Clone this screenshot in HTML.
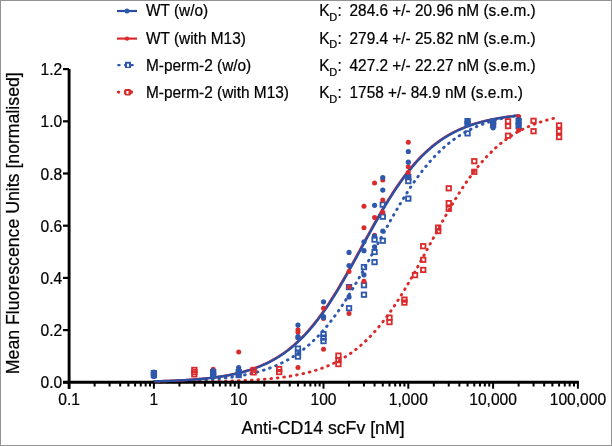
<!DOCTYPE html>
<html><head><meta charset="utf-8"><style>
html,body{margin:0;padding:0;background:#fff;}
body{width:612px;height:446px;overflow:hidden;}
svg{display:block;will-change:transform;}
text{font-family:"Liberation Sans",sans-serif;fill:#000;stroke:#000;stroke-width:0.22px;}
.tk{font-size:15.6px;}
.al{font-size:17.7px;}
.lg{font-size:15.4px;}
.sub{font-size:11px;}
</style></head><body>
<svg width="612" height="446" viewBox="0 0 612 446">
<rect x="0.5" y="0.5" width="611" height="445" fill="#fff" stroke="#939393" stroke-width="1"/>
<path d="M153.90 382.14 L155.93 382.14 L157.95 382.13 L159.98 382.12 L162.00 382.11 L164.03 382.10 L166.06 382.08 L168.08 382.07 L170.11 382.06 L172.13 382.05 L174.16 382.03 L176.19 382.02 L178.21 382.00 L180.24 381.98 L182.26 381.97 L184.29 381.95 L186.31 381.93 L188.34 381.91 L190.37 381.88 L192.39 381.86 L194.42 381.83 L196.44 381.81 L198.47 381.78 L200.50 381.75 L202.52 381.72 L204.55 381.69 L206.57 381.65 L208.60 381.62 L210.63 381.58 L212.65 381.54 L214.68 381.49 L216.70 381.45 L218.73 381.40 L220.76 381.35 L222.78 381.30 L224.81 381.24 L226.83 381.18 L228.86 381.12 L230.89 381.05 L232.91 380.98 L234.94 380.91 L236.96 380.83 L238.99 380.75 L241.02 380.66 L243.04 380.57 L245.07 380.47 L247.09 380.37 L249.12 380.26 L251.14 380.14 L253.17 380.02 L255.20 379.89 L257.22 379.76 L259.25 379.62 L261.27 379.47 L263.30 379.31 L265.33 379.14 L267.35 378.96 L269.38 378.78 L271.40 378.58 L273.43 378.37 L275.46 378.16 L277.48 377.93 L279.51 377.68 L281.53 377.43 L283.56 377.16 L285.59 376.87 L287.61 376.57 L289.64 376.25 L291.66 375.92 L293.69 375.57 L295.72 375.20 L297.74 374.81 L299.77 374.39 L301.79 373.96 L303.82 373.50 L305.85 373.02 L307.87 372.52 L309.90 371.98 L311.92 371.42 L313.95 370.84 L315.97 370.22 L318.00 369.56 L320.03 368.88 L322.05 368.16 L324.08 367.40 L326.10 366.61 L328.13 365.78 L330.16 364.90 L332.18 363.98 L334.21 363.02 L336.23 362.01 L338.26 360.95 L340.29 359.85 L342.31 358.69 L344.34 357.47 L346.36 356.20 L348.39 354.88 L350.42 353.49 L352.44 352.04 L354.47 350.53 L356.49 348.95 L358.52 347.31 L360.55 345.59 L362.57 343.81 L364.60 341.96 L366.62 340.03 L368.65 338.03 L370.68 335.95 L372.70 333.79 L374.73 331.56 L376.75 329.25 L378.78 326.86 L380.80 324.39 L382.83 321.84 L384.86 319.21 L386.88 316.50 L388.91 313.71 L390.93 310.85 L392.96 307.91 L394.99 304.90 L397.01 301.81 L399.04 298.65 L401.06 295.43 L403.09 292.14 L405.12 288.79 L407.14 285.38 L409.17 281.91 L411.19 278.40 L413.22 274.84 L415.25 271.23 L417.27 267.59 L419.30 263.92 L421.32 260.22 L423.35 256.50 L425.38 252.76 L427.40 249.01 L429.43 245.26 L431.45 241.51 L433.48 237.76 L435.51 234.03 L437.53 230.31 L439.56 226.62 L441.58 222.96 L443.61 219.33 L445.63 215.74 L447.66 212.19 L449.69 208.69 L451.71 205.24 L453.74 201.85 L455.76 198.52 L457.79 195.25 L459.82 192.04 L461.84 188.91 L463.87 185.85 L465.89 182.86 L467.92 179.94 L469.95 177.10 L471.97 174.34 L474.00 171.66 L476.02 169.05 L478.05 166.53 L480.08 164.08 L482.10 161.72 L484.13 159.43 L486.15 157.22 L488.18 155.09 L490.21 153.04 L492.23 151.06 L494.26 149.15 L496.28 147.32 L498.31 145.56 L500.34 143.87 L502.36 142.24 L504.39 140.69 L506.41 139.20 L508.44 137.77 L510.46 136.40 L512.49 135.09 L514.52 133.84 L516.54 132.64 L518.57 131.50 L520.59 130.41 L522.62 129.36 L524.65 128.37 L526.67 127.42 L528.70 126.52 L530.72 125.66 L532.75 124.83 L534.78 124.05 L536.80 123.31 L538.83 122.60 L540.85 121.93 L542.88 121.28 L544.91 120.67 L546.93 120.09 L548.96 119.54 L550.98 119.02 L553.01 118.52 L555.04 118.05 L557.06 117.60 L559.09 117.17" stroke="#da2a2b" stroke-width="2.9" fill="none" stroke-linecap="round" stroke-dasharray="0.7 5.8"/>
<path d="M153.90 381.66 L155.72 381.62 L157.55 381.59 L159.37 381.55 L161.19 381.52 L163.02 381.48 L164.84 381.44 L166.67 381.39 L168.49 381.35 L170.31 381.30 L172.14 381.25 L173.96 381.19 L175.78 381.14 L177.61 381.08 L179.43 381.02 L181.25 380.95 L183.08 380.88 L184.90 380.81 L186.73 380.74 L188.55 380.66 L190.37 380.58 L192.20 380.49 L194.02 380.40 L195.84 380.30 L197.67 380.20 L199.49 380.10 L201.31 379.98 L203.14 379.87 L204.96 379.75 L206.79 379.62 L208.61 379.48 L210.43 379.34 L212.26 379.19 L214.08 379.04 L215.90 378.87 L217.73 378.70 L219.55 378.52 L221.37 378.33 L223.20 378.13 L225.02 377.93 L226.85 377.71 L228.67 377.48 L230.49 377.24 L232.32 376.99 L234.14 376.72 L235.96 376.44 L237.79 376.15 L239.61 375.85 L241.43 375.53 L243.26 375.20 L245.08 374.84 L246.91 374.48 L248.73 374.09 L250.55 373.69 L252.38 373.27 L254.20 372.82 L256.02 372.36 L257.85 371.87 L259.67 371.37 L261.49 370.83 L263.32 370.28 L265.14 369.70 L266.97 369.09 L268.79 368.45 L270.61 367.78 L272.44 367.09 L274.26 366.36 L276.08 365.60 L277.91 364.81 L279.73 363.98 L281.55 363.12 L283.38 362.21 L285.20 361.27 L287.03 360.29 L288.85 359.27 L290.67 358.20 L292.50 357.09 L294.32 355.94 L296.14 354.73 L297.97 353.48 L299.79 352.18 L301.61 350.83 L303.44 349.42 L305.26 347.97 L307.09 346.45 L308.91 344.88 L310.73 343.25 L312.56 341.57 L314.38 339.82 L316.20 338.02 L318.03 336.15 L319.85 334.22 L321.67 332.23 L323.50 330.17 L325.32 328.05 L327.15 325.87 L328.97 323.62 L330.79 321.31 L332.62 318.93 L334.44 316.49 L336.26 313.99 L338.09 311.42 L339.91 308.79 L341.73 306.10 L343.56 303.36 L345.38 300.55 L347.21 297.69 L349.03 294.77 L350.85 291.80 L352.68 288.79 L354.50 285.72 L356.32 282.61 L358.15 279.46 L359.97 276.27 L361.79 273.04 L363.62 269.78 L365.44 266.50 L367.27 263.19 L369.09 259.86 L370.91 256.51 L372.74 253.15 L374.56 249.78 L376.38 246.41 L378.21 243.03 L380.03 239.66 L381.85 236.30 L383.68 232.94 L385.50 229.61 L387.33 226.29 L389.15 223.00 L390.97 219.74 L392.80 216.50 L394.62 213.30 L396.44 210.14 L398.27 207.02 L400.09 203.94 L401.91 200.91 L403.74 197.93 L405.56 195.00 L407.39 192.13 L409.21 189.31 L411.03 186.54 L412.86 183.84 L414.68 181.20 L416.50 178.61 L418.33 176.09 L420.15 173.64 L421.97 171.24 L423.80 168.92 L425.62 166.65 L427.45 164.45 L429.27 162.32 L431.09 160.24 L432.92 158.24 L434.74 156.29 L436.56 154.41 L438.39 152.59 L440.21 150.83 L442.03 149.12 L443.86 147.48 L445.68 145.90 L447.51 144.37 L449.33 142.90 L451.15 141.48 L452.98 140.11 L454.80 138.80 L456.62 137.54 L458.45 136.32 L460.27 135.15 L462.09 134.03 L463.92 132.95 L465.74 131.92 L467.57 130.93 L469.39 129.98 L471.21 129.07 L473.04 128.19 L474.86 127.36 L476.68 126.55 L478.51 125.79 L480.33 125.05 L482.15 124.35 L483.98 123.67 L485.80 123.03 L487.63 122.41 L489.45 121.83 L491.27 121.26 L493.10 120.73 L494.92 120.21 L496.74 119.72 L498.57 119.25 L500.39 118.80 L502.21 118.38 L504.04 117.97 L505.86 117.58 L507.69 117.21 L509.51 116.85 L511.33 116.51 L513.16 116.19 L514.98 115.88 L516.80 115.59 L518.63 115.31" stroke="#2d58ad" stroke-width="2.9" fill="none" stroke-linecap="round" stroke-dasharray="0.7 5.8"/>
<path d="M69.1 69.10 V388.7" stroke="#000" stroke-width="2.9" fill="none"/>
<path d="M63 382.30 H578.9" stroke="#000" stroke-width="2.9" fill="none"/>
<path d="M63 382.30 H69" stroke="#000" stroke-width="2.2"/>
<text transform="translate(62.30,388.40) scale(1,1.0)" class="tk" text-anchor="end">0.0</text>
<path d="M63 330.10 H69" stroke="#000" stroke-width="2.2"/>
<text transform="translate(62.30,336.20) scale(1,1.0)" class="tk" text-anchor="end">0.2</text>
<path d="M63 277.90 H69" stroke="#000" stroke-width="2.2"/>
<text transform="translate(62.30,284.00) scale(1,1.0)" class="tk" text-anchor="end">0.4</text>
<path d="M63 225.70 H69" stroke="#000" stroke-width="2.2"/>
<text transform="translate(62.30,231.80) scale(1,1.0)" class="tk" text-anchor="end">0.6</text>
<path d="M63 173.50 H69" stroke="#000" stroke-width="2.2"/>
<text transform="translate(62.30,179.60) scale(1,1.0)" class="tk" text-anchor="end">0.8</text>
<path d="M63 121.30 H69" stroke="#000" stroke-width="2.2"/>
<text transform="translate(62.30,127.40) scale(1,1.0)" class="tk" text-anchor="end">1.0</text>
<path d="M63 69.10 H69" stroke="#000" stroke-width="2.2"/>
<text transform="translate(62.30,75.20) scale(1,1.0)" class="tk" text-anchor="end">1.2</text>
<path d="M69.10 382.30 V388.7" stroke="#000" stroke-width="2"/>
<text transform="translate(69.10,404.60) scale(1,1.0)" class="tk" text-anchor="middle">0.1</text>
<path d="M94.63 382.30 V386.5" stroke="#000" stroke-width="2"/>
<path d="M109.56 382.30 V386.5" stroke="#000" stroke-width="2"/>
<path d="M120.15 382.30 V386.5" stroke="#000" stroke-width="2"/>
<path d="M128.37 382.30 V386.5" stroke="#000" stroke-width="2"/>
<path d="M135.09 382.30 V386.5" stroke="#000" stroke-width="2"/>
<path d="M140.76 382.30 V386.5" stroke="#000" stroke-width="2"/>
<path d="M145.68 382.30 V386.5" stroke="#000" stroke-width="2"/>
<path d="M150.02 382.30 V386.5" stroke="#000" stroke-width="2"/>
<path d="M153.90 382.30 V388.7" stroke="#000" stroke-width="2"/>
<text transform="translate(153.90,404.60) scale(1,1.0)" class="tk" text-anchor="middle">1</text>
<path d="M179.43 382.30 V386.5" stroke="#000" stroke-width="2"/>
<path d="M194.36 382.30 V386.5" stroke="#000" stroke-width="2"/>
<path d="M204.95 382.30 V386.5" stroke="#000" stroke-width="2"/>
<path d="M213.17 382.30 V386.5" stroke="#000" stroke-width="2"/>
<path d="M219.89 382.30 V386.5" stroke="#000" stroke-width="2"/>
<path d="M225.56 382.30 V386.5" stroke="#000" stroke-width="2"/>
<path d="M230.48 382.30 V386.5" stroke="#000" stroke-width="2"/>
<path d="M234.82 382.30 V386.5" stroke="#000" stroke-width="2"/>
<path d="M238.70 382.30 V388.7" stroke="#000" stroke-width="2"/>
<text transform="translate(238.70,404.60) scale(1,1.0)" class="tk" text-anchor="middle">10</text>
<path d="M264.23 382.30 V386.5" stroke="#000" stroke-width="2"/>
<path d="M279.16 382.30 V386.5" stroke="#000" stroke-width="2"/>
<path d="M289.75 382.30 V386.5" stroke="#000" stroke-width="2"/>
<path d="M297.97 382.30 V386.5" stroke="#000" stroke-width="2"/>
<path d="M304.69 382.30 V386.5" stroke="#000" stroke-width="2"/>
<path d="M310.36 382.30 V386.5" stroke="#000" stroke-width="2"/>
<path d="M315.28 382.30 V386.5" stroke="#000" stroke-width="2"/>
<path d="M319.62 382.30 V386.5" stroke="#000" stroke-width="2"/>
<path d="M323.50 382.30 V388.7" stroke="#000" stroke-width="2"/>
<text transform="translate(323.50,404.60) scale(1,1.0)" class="tk" text-anchor="middle">100</text>
<path d="M349.03 382.30 V386.5" stroke="#000" stroke-width="2"/>
<path d="M363.96 382.30 V386.5" stroke="#000" stroke-width="2"/>
<path d="M374.55 382.30 V386.5" stroke="#000" stroke-width="2"/>
<path d="M382.77 382.30 V386.5" stroke="#000" stroke-width="2"/>
<path d="M389.49 382.30 V386.5" stroke="#000" stroke-width="2"/>
<path d="M395.16 382.30 V386.5" stroke="#000" stroke-width="2"/>
<path d="M400.08 382.30 V386.5" stroke="#000" stroke-width="2"/>
<path d="M404.42 382.30 V386.5" stroke="#000" stroke-width="2"/>
<path d="M408.30 382.30 V388.7" stroke="#000" stroke-width="2"/>
<text transform="translate(408.30,404.60) scale(1,1.0)" class="tk" text-anchor="middle">1,000</text>
<path d="M433.83 382.30 V386.5" stroke="#000" stroke-width="2"/>
<path d="M448.76 382.30 V386.5" stroke="#000" stroke-width="2"/>
<path d="M459.35 382.30 V386.5" stroke="#000" stroke-width="2"/>
<path d="M467.57 382.30 V386.5" stroke="#000" stroke-width="2"/>
<path d="M474.29 382.30 V386.5" stroke="#000" stroke-width="2"/>
<path d="M479.96 382.30 V386.5" stroke="#000" stroke-width="2"/>
<path d="M484.88 382.30 V386.5" stroke="#000" stroke-width="2"/>
<path d="M489.22 382.30 V386.5" stroke="#000" stroke-width="2"/>
<path d="M493.10 382.30 V388.7" stroke="#000" stroke-width="2"/>
<text transform="translate(493.10,404.60) scale(1,1.0)" class="tk" text-anchor="middle">10,000</text>
<path d="M518.63 382.30 V386.5" stroke="#000" stroke-width="2"/>
<path d="M533.56 382.30 V386.5" stroke="#000" stroke-width="2"/>
<path d="M544.15 382.30 V386.5" stroke="#000" stroke-width="2"/>
<path d="M552.37 382.30 V386.5" stroke="#000" stroke-width="2"/>
<path d="M559.09 382.30 V386.5" stroke="#000" stroke-width="2"/>
<path d="M564.76 382.30 V386.5" stroke="#000" stroke-width="2"/>
<path d="M569.68 382.30 V386.5" stroke="#000" stroke-width="2"/>
<path d="M574.02 382.30 V386.5" stroke="#000" stroke-width="2"/>
<path d="M577.90 382.30 V388.7" stroke="#000" stroke-width="2"/>
<text transform="translate(577.90,404.60) scale(1,1.0)" class="tk" text-anchor="middle">100,000</text>
<text transform="translate(323.00,433.80) scale(1,1.045)" class="al" text-anchor="middle">Anti-CD14 scFv [nM]</text>
<text transform="translate(18.8,223.2) rotate(-90) scale(1,1.045)" class="al" text-anchor="middle">Mean Fluorescence Units [normalised]</text>
<path d="M153.90 381.34 L155.72 381.29 L157.55 381.24 L159.37 381.18 L161.19 381.13 L163.02 381.07 L164.84 381.01 L166.67 380.94 L168.49 380.87 L170.31 380.80 L172.14 380.72 L173.96 380.64 L175.78 380.56 L177.61 380.47 L179.43 380.38 L181.25 380.28 L183.08 380.18 L184.90 380.08 L186.73 379.96 L188.55 379.85 L190.37 379.72 L192.20 379.59 L194.02 379.46 L195.84 379.32 L197.67 379.17 L199.49 379.01 L201.31 378.84 L203.14 378.67 L204.96 378.49 L206.79 378.30 L208.61 378.10 L210.43 377.89 L212.26 377.67 L214.08 377.44 L215.90 377.20 L217.73 376.94 L219.55 376.68 L221.37 376.40 L223.20 376.10 L225.02 375.80 L226.85 375.47 L228.67 375.14 L230.49 374.78 L232.32 374.41 L234.14 374.03 L235.96 373.62 L237.79 373.19 L239.61 372.75 L241.43 372.28 L243.26 371.79 L245.08 371.28 L246.91 370.74 L248.73 370.18 L250.55 369.60 L252.38 368.98 L254.20 368.34 L256.02 367.67 L257.85 366.97 L259.67 366.24 L261.49 365.48 L263.32 364.68 L265.14 363.84 L266.97 362.97 L268.79 362.07 L270.61 361.12 L272.44 360.13 L274.26 359.10 L276.08 358.03 L277.91 356.92 L279.73 355.75 L281.55 354.54 L283.38 353.29 L285.20 351.98 L287.03 350.62 L288.85 349.21 L290.67 347.74 L292.50 346.22 L294.32 344.65 L296.14 343.01 L297.97 341.32 L299.79 339.57 L301.61 337.76 L303.44 335.88 L305.26 333.95 L307.09 331.95 L308.91 329.89 L310.73 327.77 L312.56 325.58 L314.38 323.33 L316.20 321.01 L318.03 318.63 L319.85 316.19 L321.67 313.68 L323.50 311.12 L325.32 308.49 L327.15 305.80 L328.97 303.06 L330.79 300.26 L332.62 297.40 L334.44 294.49 L336.26 291.52 L338.09 288.51 L339.91 285.46 L341.73 282.36 L343.56 279.22 L345.38 276.04 L347.21 272.83 L349.03 269.59 L350.85 266.32 L352.68 263.03 L354.50 259.72 L356.32 256.39 L358.15 253.05 L359.97 249.71 L361.79 246.36 L363.62 243.01 L365.44 239.67 L367.27 236.34 L369.09 233.02 L370.91 229.71 L372.74 226.43 L374.56 223.17 L376.38 219.94 L378.21 216.75 L380.03 213.58 L381.85 210.46 L383.68 207.38 L385.50 204.34 L387.33 201.35 L389.15 198.41 L390.97 195.52 L392.80 192.68 L394.62 189.90 L396.44 187.18 L398.27 184.52 L400.09 181.92 L401.91 179.38 L403.74 176.90 L405.56 174.48 L407.39 172.13 L409.21 169.84 L411.03 167.61 L412.86 165.45 L414.68 163.35 L416.50 161.32 L418.33 159.35 L420.15 157.44 L421.97 155.59 L423.80 153.80 L425.62 152.08 L427.45 150.41 L429.27 148.80 L431.09 147.24 L432.92 145.75 L434.74 144.30 L436.56 142.91 L438.39 141.58 L440.21 140.29 L442.03 139.05 L443.86 137.86 L445.68 136.72 L447.51 135.62 L449.33 134.57 L451.15 133.56 L452.98 132.58 L454.80 131.65 L456.62 130.76 L458.45 129.91 L460.27 129.09 L462.09 128.30 L463.92 127.55 L465.74 126.83 L467.57 126.15 L469.39 125.49 L471.21 124.86 L473.04 124.26 L474.86 123.68 L476.68 123.13 L478.51 122.61 L480.33 122.10 L482.15 121.62 L483.98 121.17 L485.80 120.73 L487.63 120.31 L489.45 119.91 L491.27 119.53 L493.10 119.17 L494.92 118.82 L496.74 118.49 L498.57 118.17 L500.39 117.87 L502.21 117.59 L504.04 117.31 L505.86 117.05 L507.69 116.80 L509.51 116.57 L511.33 116.34 L513.16 116.12 L514.98 115.92 L516.80 115.72 L518.63 115.53" stroke="#da2a2b" stroke-width="2.4" fill="none"/>
<path d="M153.90 381.35 L155.72 381.31 L157.55 381.26 L159.37 381.20 L161.19 381.15 L163.02 381.09 L164.84 381.03 L166.67 380.96 L168.49 380.90 L170.31 380.83 L172.14 380.75 L173.96 380.67 L175.78 380.59 L177.61 380.51 L179.43 380.41 L181.25 380.32 L183.08 380.22 L184.90 380.12 L186.73 380.01 L188.55 379.89 L190.37 379.77 L192.20 379.64 L194.02 379.51 L195.84 379.37 L197.67 379.22 L199.49 379.07 L201.31 378.90 L203.14 378.73 L204.96 378.56 L206.79 378.37 L208.61 378.17 L210.43 377.97 L212.26 377.75 L214.08 377.52 L215.90 377.28 L217.73 377.03 L219.55 376.77 L221.37 376.50 L223.20 376.21 L225.02 375.91 L226.85 375.59 L228.67 375.26 L230.49 374.91 L232.32 374.55 L234.14 374.17 L235.96 373.77 L237.79 373.35 L239.61 372.91 L241.43 372.45 L243.26 371.97 L245.08 371.47 L246.91 370.94 L248.73 370.39 L250.55 369.81 L252.38 369.21 L254.20 368.58 L256.02 367.92 L257.85 367.23 L259.67 366.51 L261.49 365.75 L263.32 364.97 L265.14 364.15 L266.97 363.29 L268.79 362.40 L270.61 361.46 L272.44 360.49 L274.26 359.48 L276.08 358.42 L277.91 357.32 L279.73 356.17 L281.55 354.98 L283.38 353.74 L285.20 352.45 L287.03 351.11 L288.85 349.72 L290.67 348.27 L292.50 346.77 L294.32 345.22 L296.14 343.60 L297.97 341.93 L299.79 340.20 L301.61 338.41 L303.44 336.56 L305.26 334.65 L307.09 332.67 L308.91 330.63 L310.73 328.53 L312.56 326.37 L314.38 324.14 L316.20 321.85 L318.03 319.49 L319.85 317.07 L321.67 314.59 L323.50 312.04 L325.32 309.44 L327.15 306.77 L328.97 304.05 L330.79 301.26 L332.62 298.43 L334.44 295.53 L336.26 292.59 L338.09 289.60 L339.91 286.56 L341.73 283.47 L343.56 280.35 L345.38 277.18 L347.21 273.98 L349.03 270.75 L350.85 267.49 L352.68 264.21 L354.50 260.90 L356.32 257.58 L358.15 254.25 L359.97 250.90 L361.79 247.56 L363.62 244.21 L365.44 240.86 L367.27 237.53 L369.09 234.20 L370.91 230.89 L372.74 227.60 L374.56 224.33 L376.38 221.09 L378.21 217.88 L380.03 214.71 L381.85 211.57 L383.68 208.47 L385.50 205.42 L387.33 202.41 L389.15 199.45 L390.97 196.54 L392.80 193.69 L394.62 190.89 L396.44 188.15 L398.27 185.46 L400.09 182.84 L401.91 180.28 L403.74 177.78 L405.56 175.34 L407.39 172.96 L409.21 170.65 L411.03 168.40 L412.86 166.22 L414.68 164.10 L416.50 162.04 L418.33 160.04 L420.15 158.11 L421.97 156.24 L423.80 154.43 L425.62 152.69 L427.45 151.00 L429.27 149.37 L431.09 147.79 L432.92 146.28 L434.74 144.81 L436.56 143.40 L438.39 142.05 L440.21 140.74 L442.03 139.49 L443.86 138.28 L445.68 137.12 L447.51 136.01 L449.33 134.94 L451.15 133.91 L452.98 132.93 L454.80 131.98 L456.62 131.08 L458.45 130.21 L460.27 129.38 L462.09 128.58 L463.92 127.82 L465.74 127.09 L467.57 126.39 L469.39 125.72 L471.21 125.08 L473.04 124.47 L474.86 123.88 L476.68 123.33 L478.51 122.79 L480.33 122.28 L482.15 121.79 L483.98 121.33 L485.80 120.88 L487.63 120.46 L489.45 120.05 L491.27 119.67 L493.10 119.30 L494.92 118.94 L496.74 118.61 L498.57 118.29 L500.39 117.98 L502.21 117.69 L504.04 117.41 L505.86 117.14 L507.69 116.89 L509.51 116.65 L511.33 116.42 L513.16 116.20 L514.98 115.99 L516.80 115.79 L518.63 115.60" stroke="#2a4ea3" stroke-width="2.4" fill="none"/>
<rect x="192.11" y="367.70" width="4.5" height="4.4" fill="none" stroke="#da2a2b" stroke-width="1.8"/>
<rect x="192.11" y="369.90" width="4.5" height="4.4" fill="none" stroke="#da2a2b" stroke-width="1.8"/>
<rect x="192.11" y="372.20" width="4.5" height="4.4" fill="none" stroke="#da2a2b" stroke-width="1.8"/>
<rect x="251.38" y="367.70" width="4.5" height="4.4" fill="none" stroke="#da2a2b" stroke-width="1.8"/>
<rect x="251.38" y="370.20" width="4.5" height="4.4" fill="none" stroke="#da2a2b" stroke-width="1.8"/>
<rect x="276.91" y="366.90" width="4.5" height="4.4" fill="none" stroke="#da2a2b" stroke-width="1.8"/>
<rect x="276.91" y="369.90" width="4.5" height="4.4" fill="none" stroke="#da2a2b" stroke-width="1.8"/>
<rect x="336.18" y="353.40" width="4.5" height="4.4" fill="none" stroke="#da2a2b" stroke-width="1.8"/>
<rect x="336.18" y="357.90" width="4.5" height="4.4" fill="none" stroke="#da2a2b" stroke-width="1.8"/>
<rect x="336.18" y="361.90" width="4.5" height="4.4" fill="none" stroke="#da2a2b" stroke-width="1.8"/>
<rect x="387.24" y="315.40" width="4.5" height="4.4" fill="none" stroke="#da2a2b" stroke-width="1.8"/>
<rect x="387.24" y="319.90" width="4.5" height="4.4" fill="none" stroke="#da2a2b" stroke-width="1.8"/>
<rect x="402.17" y="297.40" width="4.5" height="4.4" fill="none" stroke="#da2a2b" stroke-width="1.8"/>
<rect x="402.17" y="300.40" width="4.5" height="4.4" fill="none" stroke="#da2a2b" stroke-width="1.8"/>
<rect x="412.76" y="272.90" width="4.5" height="4.4" fill="none" stroke="#da2a2b" stroke-width="1.8"/>
<rect x="420.98" y="244.00" width="4.5" height="4.4" fill="none" stroke="#da2a2b" stroke-width="1.8"/>
<rect x="420.98" y="257.60" width="4.5" height="4.4" fill="none" stroke="#da2a2b" stroke-width="1.8"/>
<rect x="420.98" y="267.70" width="4.5" height="4.4" fill="none" stroke="#da2a2b" stroke-width="1.8"/>
<rect x="435.92" y="225.40" width="4.5" height="4.4" fill="none" stroke="#da2a2b" stroke-width="1.8"/>
<rect x="435.92" y="228.90" width="4.5" height="4.4" fill="none" stroke="#da2a2b" stroke-width="1.8"/>
<rect x="446.51" y="186.10" width="4.5" height="4.4" fill="none" stroke="#da2a2b" stroke-width="1.8"/>
<rect x="446.51" y="200.90" width="4.5" height="4.4" fill="none" stroke="#da2a2b" stroke-width="1.8"/>
<rect x="446.51" y="206.60" width="4.5" height="4.4" fill="none" stroke="#da2a2b" stroke-width="1.8"/>
<rect x="472.04" y="159.00" width="4.5" height="4.4" fill="none" stroke="#da2a2b" stroke-width="1.8"/>
<rect x="472.04" y="169.60" width="4.5" height="4.4" fill="none" stroke="#da2a2b" stroke-width="1.8"/>
<rect x="505.78" y="119.10" width="4.5" height="4.4" fill="none" stroke="#da2a2b" stroke-width="1.8"/>
<rect x="505.78" y="123.90" width="4.5" height="4.4" fill="none" stroke="#da2a2b" stroke-width="1.8"/>
<rect x="505.78" y="133.50" width="4.5" height="4.4" fill="none" stroke="#da2a2b" stroke-width="1.8"/>
<rect x="531.31" y="118.60" width="4.5" height="4.4" fill="none" stroke="#da2a2b" stroke-width="1.8"/>
<rect x="531.31" y="129.00" width="4.5" height="4.4" fill="none" stroke="#da2a2b" stroke-width="1.8"/>
<rect x="556.84" y="123.20" width="4.5" height="4.4" fill="none" stroke="#da2a2b" stroke-width="1.8"/>
<rect x="556.84" y="129.00" width="4.5" height="4.4" fill="none" stroke="#da2a2b" stroke-width="1.8"/>
<rect x="556.84" y="134.90" width="4.5" height="4.4" fill="none" stroke="#da2a2b" stroke-width="1.8"/>
<rect x="151.65" y="370.90" width="4.5" height="4.4" fill="none" stroke="#2d58ad" stroke-width="1.8"/>
<rect x="151.65" y="372.90" width="4.5" height="4.4" fill="none" stroke="#2d58ad" stroke-width="1.8"/>
<rect x="210.92" y="369.90" width="4.5" height="4.4" fill="none" stroke="#2d58ad" stroke-width="1.8"/>
<rect x="210.92" y="372.90" width="4.5" height="4.4" fill="none" stroke="#2d58ad" stroke-width="1.8"/>
<rect x="236.45" y="369.90" width="4.5" height="4.4" fill="none" stroke="#2d58ad" stroke-width="1.8"/>
<rect x="236.45" y="372.90" width="4.5" height="4.4" fill="none" stroke="#2d58ad" stroke-width="1.8"/>
<rect x="295.72" y="346.40" width="4.5" height="4.4" fill="none" stroke="#2d58ad" stroke-width="1.8"/>
<rect x="295.72" y="350.40" width="4.5" height="4.4" fill="none" stroke="#2d58ad" stroke-width="1.8"/>
<rect x="295.72" y="354.40" width="4.5" height="4.4" fill="none" stroke="#2d58ad" stroke-width="1.8"/>
<rect x="321.25" y="331.90" width="4.5" height="4.4" fill="none" stroke="#2d58ad" stroke-width="1.8"/>
<rect x="321.25" y="335.40" width="4.5" height="4.4" fill="none" stroke="#2d58ad" stroke-width="1.8"/>
<rect x="321.25" y="338.90" width="4.5" height="4.4" fill="none" stroke="#2d58ad" stroke-width="1.8"/>
<rect x="346.78" y="284.90" width="4.5" height="4.4" fill="none" stroke="#2d58ad" stroke-width="1.8"/>
<rect x="346.78" y="306.00" width="4.5" height="4.4" fill="none" stroke="#2d58ad" stroke-width="1.8"/>
<rect x="361.71" y="264.90" width="4.5" height="4.4" fill="none" stroke="#2d58ad" stroke-width="1.8"/>
<rect x="361.71" y="283.00" width="4.5" height="4.4" fill="none" stroke="#2d58ad" stroke-width="1.8"/>
<rect x="361.71" y="292.50" width="4.5" height="4.4" fill="none" stroke="#2d58ad" stroke-width="1.8"/>
<rect x="372.30" y="237.40" width="4.5" height="4.4" fill="none" stroke="#2d58ad" stroke-width="1.8"/>
<rect x="372.30" y="249.80" width="4.5" height="4.4" fill="none" stroke="#2d58ad" stroke-width="1.8"/>
<rect x="372.30" y="259.90" width="4.5" height="4.4" fill="none" stroke="#2d58ad" stroke-width="1.8"/>
<rect x="380.52" y="202.40" width="4.5" height="4.4" fill="none" stroke="#2d58ad" stroke-width="1.8"/>
<rect x="380.52" y="214.50" width="4.5" height="4.4" fill="none" stroke="#2d58ad" stroke-width="1.8"/>
<rect x="380.52" y="238.50" width="4.5" height="4.4" fill="none" stroke="#2d58ad" stroke-width="1.8"/>
<rect x="406.05" y="174.90" width="4.5" height="4.4" fill="none" stroke="#2d58ad" stroke-width="1.8"/>
<rect x="406.05" y="178.90" width="4.5" height="4.4" fill="none" stroke="#2d58ad" stroke-width="1.8"/>
<rect x="406.05" y="196.40" width="4.5" height="4.4" fill="none" stroke="#2d58ad" stroke-width="1.8"/>
<rect x="465.32" y="118.90" width="4.5" height="4.4" fill="none" stroke="#2d58ad" stroke-width="1.8"/>
<rect x="465.32" y="121.90" width="4.5" height="4.4" fill="none" stroke="#2d58ad" stroke-width="1.8"/>
<rect x="465.32" y="131.20" width="4.5" height="4.4" fill="none" stroke="#2d58ad" stroke-width="1.8"/>
<rect x="490.85" y="119.40" width="4.5" height="4.4" fill="none" stroke="#2d58ad" stroke-width="1.8"/>
<rect x="490.85" y="122.90" width="4.5" height="4.4" fill="none" stroke="#2d58ad" stroke-width="1.8"/>
<rect x="516.38" y="118.90" width="4.5" height="4.4" fill="none" stroke="#2d58ad" stroke-width="1.8"/>
<rect x="516.38" y="123.90" width="4.5" height="4.4" fill="none" stroke="#2d58ad" stroke-width="1.8"/>
<circle cx="153.90" cy="374" r="2.5" fill="#da2a2b"/>
<circle cx="213.17" cy="369.2" r="2.5" fill="#da2a2b"/>
<circle cx="238.70" cy="352" r="2.5" fill="#da2a2b"/>
<circle cx="297.97" cy="329.8" r="2.5" fill="#da2a2b"/>
<circle cx="297.97" cy="332.3" r="2.5" fill="#da2a2b"/>
<circle cx="297.97" cy="367.5" r="2.5" fill="#da2a2b"/>
<circle cx="323.50" cy="308.3" r="2.5" fill="#da2a2b"/>
<circle cx="323.50" cy="318.6" r="2.5" fill="#da2a2b"/>
<circle cx="323.50" cy="349.3" r="2.5" fill="#da2a2b"/>
<circle cx="349.03" cy="271.5" r="2.5" fill="#da2a2b"/>
<circle cx="349.03" cy="287" r="2.5" fill="#da2a2b"/>
<circle cx="349.03" cy="313.5" r="2.5" fill="#da2a2b"/>
<circle cx="363.96" cy="206.3" r="2.5" fill="#da2a2b"/>
<circle cx="363.96" cy="227.8" r="2.5" fill="#da2a2b"/>
<circle cx="363.96" cy="281.2" r="2.5" fill="#da2a2b"/>
<circle cx="374.55" cy="183" r="2.5" fill="#da2a2b"/>
<circle cx="374.55" cy="217.4" r="2.5" fill="#da2a2b"/>
<circle cx="374.55" cy="235.2" r="2.5" fill="#da2a2b"/>
<circle cx="382.77" cy="180" r="2.5" fill="#da2a2b"/>
<circle cx="382.77" cy="199.9" r="2.5" fill="#da2a2b"/>
<circle cx="382.77" cy="212.3" r="2.5" fill="#da2a2b"/>
<circle cx="408.30" cy="142.3" r="2.5" fill="#da2a2b"/>
<circle cx="408.30" cy="166.8" r="2.5" fill="#da2a2b"/>
<circle cx="408.30" cy="172.6" r="2.5" fill="#da2a2b"/>
<circle cx="467.57" cy="122" r="2.5" fill="#da2a2b"/>
<circle cx="493.10" cy="125" r="2.5" fill="#da2a2b"/>
<circle cx="518.63" cy="116.5" r="2.5" fill="#da2a2b"/>
<circle cx="518.63" cy="130.2" r="2.5" fill="#da2a2b"/>
<circle cx="153.90" cy="372" r="2.6" fill="#2d58ad"/>
<circle cx="153.90" cy="374.5" r="2.6" fill="#2d58ad"/>
<circle cx="153.90" cy="376.5" r="2.6" fill="#2d58ad"/>
<circle cx="213.17" cy="370.5" r="2.6" fill="#2d58ad"/>
<circle cx="213.17" cy="373" r="2.6" fill="#2d58ad"/>
<circle cx="213.17" cy="375.5" r="2.6" fill="#2d58ad"/>
<circle cx="238.70" cy="367.5" r="2.6" fill="#2d58ad"/>
<circle cx="238.70" cy="371" r="2.6" fill="#2d58ad"/>
<circle cx="238.70" cy="374.5" r="2.6" fill="#2d58ad"/>
<circle cx="297.97" cy="325.1" r="2.6" fill="#2d58ad"/>
<circle cx="297.97" cy="336.5" r="2.6" fill="#2d58ad"/>
<circle cx="297.97" cy="337.7" r="2.6" fill="#2d58ad"/>
<circle cx="323.50" cy="301.8" r="2.6" fill="#2d58ad"/>
<circle cx="323.50" cy="316.5" r="2.6" fill="#2d58ad"/>
<circle cx="323.50" cy="317.5" r="2.6" fill="#2d58ad"/>
<circle cx="349.03" cy="252.4" r="2.6" fill="#2d58ad"/>
<circle cx="349.03" cy="265.6" r="2.6" fill="#2d58ad"/>
<circle cx="349.03" cy="296.9" r="2.6" fill="#2d58ad"/>
<circle cx="363.96" cy="241.8" r="2.6" fill="#2d58ad"/>
<circle cx="363.96" cy="250.7" r="2.6" fill="#2d58ad"/>
<circle cx="363.96" cy="274.8" r="2.6" fill="#2d58ad"/>
<circle cx="374.55" cy="205.3" r="2.6" fill="#2d58ad"/>
<circle cx="374.55" cy="236" r="2.6" fill="#2d58ad"/>
<circle cx="374.55" cy="246.8" r="2.6" fill="#2d58ad"/>
<circle cx="382.77" cy="177.6" r="2.6" fill="#2d58ad"/>
<circle cx="382.77" cy="190.1" r="2.6" fill="#2d58ad"/>
<circle cx="382.77" cy="231.1" r="2.6" fill="#2d58ad"/>
<circle cx="408.30" cy="151.5" r="2.6" fill="#2d58ad"/>
<circle cx="408.30" cy="162.2" r="2.6" fill="#2d58ad"/>
<circle cx="408.30" cy="177" r="2.6" fill="#2d58ad"/>
<circle cx="467.57" cy="120.5" r="2.6" fill="#2d58ad"/>
<circle cx="467.57" cy="122.5" r="2.6" fill="#2d58ad"/>
<circle cx="467.57" cy="124" r="2.6" fill="#2d58ad"/>
<circle cx="493.10" cy="121" r="2.6" fill="#2d58ad"/>
<circle cx="493.10" cy="124.5" r="2.6" fill="#2d58ad"/>
<circle cx="493.10" cy="127.8" r="2.6" fill="#2d58ad"/>
<circle cx="518.63" cy="119.5" r="2.6" fill="#2d58ad"/>
<circle cx="518.63" cy="122.5" r="2.6" fill="#2d58ad"/>
<circle cx="518.63" cy="125.5" r="2.6" fill="#2d58ad"/>
<path d="M117 11.0 H137" stroke="#2a4ea3" stroke-width="2.2"/>
<circle cx="127" cy="11.0" r="2.5" fill="#2d58ad"/>
<text transform="translate(146.00,16.00) scale(1,1.045)" class="lg" text-anchor="start">WT (w/o)</text>
<text transform="translate(319.30,16.00) scale(1,1.045)" class="lg" text-anchor="start">K</text><text transform="translate(329.30,20.60) scale(1,1.045)" class="sub" text-anchor="start">D</text><text transform="translate(337.50,16.00) scale(1,1.045)" class="lg" text-anchor="start">:</text>
<text transform="translate(349.50,16.00) scale(1,1.045)" class="lg" text-anchor="start">284.6 +/- 20.96 nM (s.e.m.)</text>
<path d="M117 38.6 H137" stroke="#da2a2b" stroke-width="2.2"/>
<circle cx="127" cy="38.6" r="2.2" fill="#da2a2b"/>
<text transform="translate(146.00,43.50) scale(1,1.045)" class="lg" text-anchor="start">WT (with M13)</text>
<text transform="translate(319.30,43.50) scale(1,1.045)" class="lg" text-anchor="start">K</text><text transform="translate(329.30,48.10) scale(1,1.045)" class="sub" text-anchor="start">D</text><text transform="translate(337.50,43.50) scale(1,1.045)" class="lg" text-anchor="start">:</text>
<text transform="translate(349.50,43.50) scale(1,1.045)" class="lg" text-anchor="start">279.4 +/- 25.82 nM (s.e.m.)</text>
<rect x="117.2" y="63.99999999999999" width="3.5" height="2.3" rx="1" fill="#2d58ad"/>
<rect x="124.2" y="63.99999999999999" width="2" height="2.3" fill="#2d58ad"/>
<rect x="130" y="63.99999999999999" width="3.8" height="2.3" rx="1" fill="#2d58ad"/>
<path d="M125 61.8h6v6.2h-6z M127 63.8v3h2v-3z" fill="#2d58ad" fill-rule="evenodd"/>
<text transform="translate(146.00,71.00) scale(1,1.045)" class="lg" text-anchor="start">M-perm-2 (w/o)</text>
<text transform="translate(319.30,71.00) scale(1,1.045)" class="lg" text-anchor="start">K</text><text transform="translate(329.30,75.60) scale(1,1.045)" class="sub" text-anchor="start">D</text><text transform="translate(337.50,71.00) scale(1,1.045)" class="lg" text-anchor="start">:</text>
<text transform="translate(349.50,71.00) scale(1,1.045)" class="lg" text-anchor="start">427.2 +/- 22.27 nM (s.e.m.)</text>
<circle cx="118.6" cy="92.1" r="1.7" fill="#da2a2b"/>
<rect x="129.5" y="90.39999999999999" width="3.4" height="3.4" rx="0.8" fill="#da2a2b"/>
<path d="M125.5 89.0h4.5l1.3 1.3v3.8l-1.3 1.3h-4.5l-1.5-1.5v-3.4z M126.4 91.0v3h2.1v-3z" fill="#da2a2b" fill-rule="evenodd"/>
<text transform="translate(146.00,98.00) scale(1,1.045)" class="lg" text-anchor="start">M-perm-2 (with M13)</text>
<text transform="translate(319.30,98.00) scale(1,1.045)" class="lg" text-anchor="start">K</text><text transform="translate(329.30,102.60) scale(1,1.045)" class="sub" text-anchor="start">D</text><text transform="translate(337.50,98.00) scale(1,1.045)" class="lg" text-anchor="start">:</text>
<text transform="translate(349.50,98.00) scale(1,1.045)" class="lg" text-anchor="start">1758 +/- 84.9 nM (s.e.m.)</text>
</svg>
</body></html>
